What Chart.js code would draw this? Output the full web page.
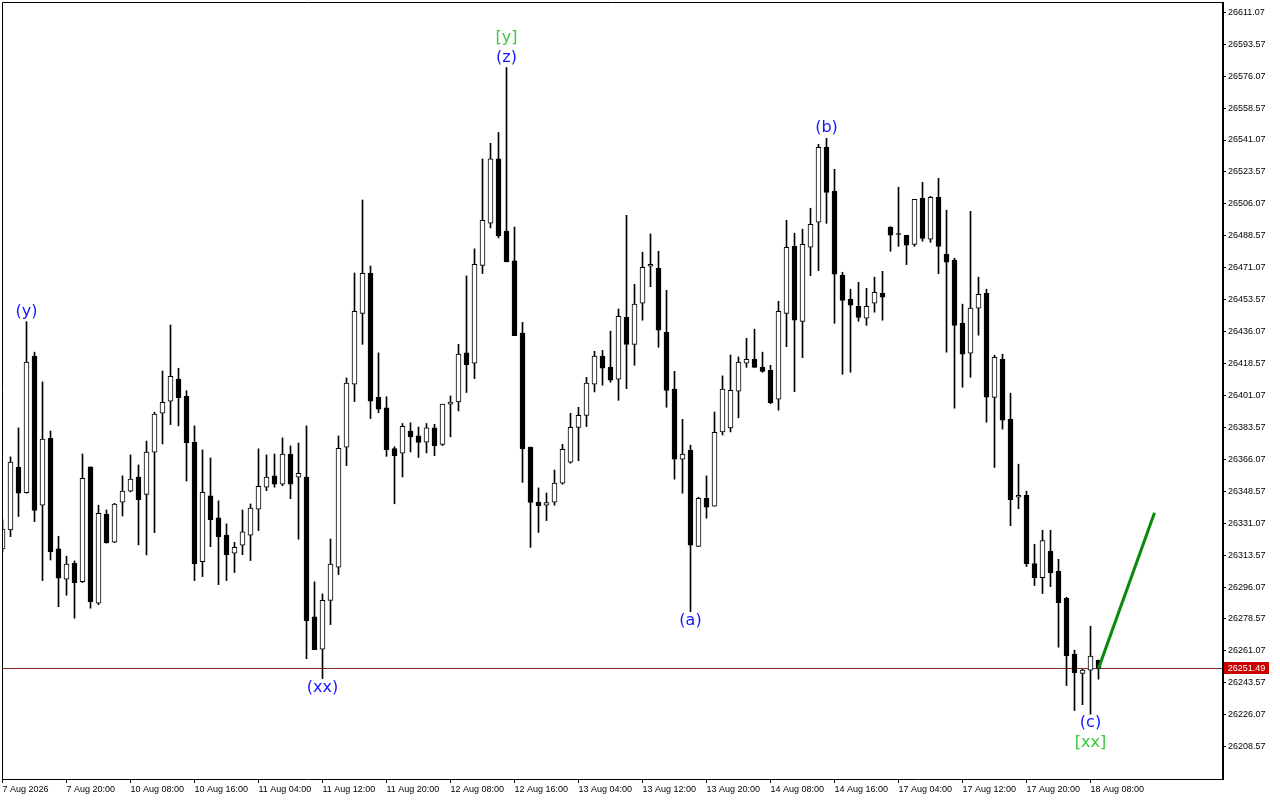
<!DOCTYPE html>
<html>
<head>
<meta charset="utf-8">
<script src="https://cdn.jsdelivr.net/npm/chart.js@4.4.1/dist/chart.umd.min.js"></script>
<style>
  html, body { margin: 0; padding: 0; background: #fff; }
  .chart-box { width: 1280px; height: 800px; position: relative; }
</style>
</head>
<body>
<div class="chart-box"><canvas id="canvas"></canvas></div>
<script>
// time axis labels, one every 8 candles
const timeLabels = ["7 Aug 2026", "7 Aug 20:00", "10 Aug 08:00", "10 Aug 16:00", "11 Aug 04:00",
    "11 Aug 12:00", "11 Aug 20:00", "12 Aug 08:00", "12 Aug 16:00", "13 Aug 04:00", "13 Aug 12:00",
    "13 Aug 20:00", "14 Aug 08:00", "14 Aug 16:00", "17 Aug 04:00", "17 Aug 12:00", "17 Aug 20:00",
    "18 Aug 08:00"];

const yTicks = [26611.07, 26593.57, 26576.07, 26558.57, 26541.07, 26523.57, 26506.07, 26488.57,
    26471.07, 26453.57, 26436.07, 26418.57, 26401.07, 26383.57, 26366.07, 26348.57, 26331.07,
    26313.57, 26296.07, 26278.57, 26261.07, 26243.57, 26226.07, 26208.57];

const opens = [26317.0, 26327.4, 26361.7, 26347.8, 26422.6, 26340.9, 26377.6, 26317.0, 26300.4, 26309.1,
    26299.0, 26361.9, 26287.2, 26336.0, 26320.6, 26342.6, 26348.6, 26356.3, 26346.9, 26370.0,
    26391.3, 26397.9, 26410.0, 26400.6, 26375.4, 26310.0, 26346.0, 26334.0, 26324.6, 26314.6,
    26319.0, 26324.5, 26338.7, 26350.8, 26357.0, 26352.4, 26368.9, 26356.3, 26356.4, 26279.7,
    26262.0, 26288.8, 26306.9, 26372.7, 26407.2, 26446.1, 26468.0, 26400.1, 26394.3, 26371.9,
    26369.5, 26381.6, 26378.9, 26375.5, 26383.3, 26374.2, 26396.3, 26397.5, 26424.4, 26418.8,
    26472.4, 26495.5, 26530.7, 26491.2, 26474.8, 26435.2, 26372.8, 26342.7, 26340.9, 26342.6,
    26353.0, 26364.5, 26383.6, 26390.2, 26407.2, 26422.6, 26416.5, 26410.0, 26443.9, 26429.1,
    26451.6, 26471.9, 26470.8, 26435.7, 26404.5, 26366.1, 26371.1, 26318.4, 26344.7, 26340.4,
    26381.1, 26383.3, 26403.4, 26418.7, 26420.9, 26416.5, 26414.9, 26399.0, 26446.1, 26482.8,
    26441.7, 26482.3, 26496.0, 26537.1, 26512.9, 26466.9, 26453.8, 26449.9, 26443.4, 26451.6,
    26457.1, 26493.3, 26489.5, 26488.9, 26483.9, 26509.1, 26486.7, 26509.7, 26478.5, 26475.2,
    26440.6, 26424.2, 26448.9, 26457.1, 26400.0, 26420.9, 26388.0, 26345.3, 26346.4, 26308.9,
    26301.2, 26315.7, 26304.7, 26289.9, 26259.3, 26248.8, 26250.5, 26256.0];

const highs = [26332.9, 26367.4, 26383.3, 26441.5, 26424.8, 26408.5, 26381.6, 26323.9, 26313.0, 26310.4,
    26369.0, 26361.9, 26340.9, 26338.3, 26342.0, 26357.0, 26368.5, 26363.0, 26376.1, 26391.9,
    26414.5, 26439.7, 26416.0, 26403.7, 26384.4, 26371.2, 26366.8, 26343.3, 26330.7, 26320.6,
    26338.3, 26341.6, 26371.8, 26368.5, 26369.0, 26377.8, 26373.4, 26375.0, 26384.4, 26298.9,
    26292.3, 26322.4, 26378.9, 26410.7, 26468.2, 26508.2, 26472.0, 26424.4, 26400.4, 26373.0,
    26385.7, 26386.1, 26383.8, 26385.7, 26385.3, 26396.3, 26400.8, 26429.1, 26466.6, 26481.4,
    26530.7, 26539.3, 26545.2, 26580.8, 26493.4, 26441.1, 26372.8, 26350.4, 26347.6, 26360.2,
    26374.3, 26391.3, 26394.6, 26411.0, 26425.3, 26425.8, 26436.3, 26448.5, 26499.8, 26462.0,
    26479.6, 26489.6, 26480.1, 26458.7, 26414.3, 26388.0, 26373.8, 26345.3, 26357.0, 26392.0,
    26411.8, 26423.3, 26422.2, 26432.4, 26437.4, 26424.8, 26417.6, 26452.7, 26497.1, 26490.0,
    26492.2, 26503.7, 26538.7, 26542.0, 26525.0, 26468.6, 26459.3, 26463.1, 26459.8, 26465.9,
    26469.1, 26493.6, 26515.2, 26488.9, 26508.6, 26517.9, 26510.2, 26520.1, 26502.6, 26476.3,
    26451.1, 26502.0, 26465.9, 26459.3, 26423.1, 26423.7, 26402.3, 26363.4, 26348.6, 26319.5,
    26327.2, 26327.2, 26311.3, 26290.5, 26261.5, 26251.0, 26274.6, 26256.0];

const lows = [26315.3, 26323.7, 26334.7, 26347.5, 26331.9, 26299.6, 26310.9, 26285.3, 26291.6, 26279.0,
    26298.5, 26284.5, 26286.4, 26320.1, 26320.4, 26335.0, 26348.2, 26319.2, 26313.7, 26325.9,
    26374.5, 26385.1, 26384.4, 26354.2, 26299.6, 26301.8, 26318.2, 26297.4, 26299.6, 26304.0,
    26313.8, 26310.6, 26327.0, 26348.9, 26350.8, 26351.6, 26344.5, 26322.3, 26256.8, 26261.8,
    26245.9, 26275.5, 26302.9, 26362.6, 26397.7, 26429.1, 26388.4, 26391.6, 26367.7, 26341.7,
    26356.4, 26370.1, 26367.1, 26369.6, 26368.1, 26373.6, 26378.4, 26392.6, 26402.7, 26410.3,
    26467.9, 26492.9, 26487.4, 26474.3, 26433.9, 26353.4, 26317.8, 26326.0, 26332.5, 26340.9,
    26352.4, 26363.9, 26365.3, 26384.0, 26403.0, 26406.7, 26408.3, 26398.4, 26404.8, 26417.6,
    26442.3, 26460.7, 26427.5, 26394.6, 26355.2, 26347.5, 26282.6, 26318.3, 26333.8, 26340.4,
    26379.4, 26381.1, 26388.8, 26416.5, 26416.5, 26413.8, 26396.6, 26393.0, 26427.8, 26403.2,
    26421.8, 26466.7, 26469.5, 26495.4, 26440.6, 26412.7, 26413.8, 26441.7, 26439.5, 26446.7,
    26442.3, 26480.1, 26482.8, 26472.8, 26482.8, 26485.6, 26485.0, 26467.8, 26424.8, 26394.1,
    26405.6, 26411.0, 26434.1, 26386.4, 26361.6, 26382.6, 26329.7, 26339.0, 26307.3, 26296.9,
    26292.5, 26296.3, 26263.1, 26242.1, 26228.4, 26231.6, 26226.4, 26245.6];

const closes = [26327.9, 26364.5, 26347.5, 26419.3, 26338.0, 26377.1, 26315.5, 26300.9, 26308.6, 26298.5,
    26355.7, 26288.1, 26336.5, 26320.4, 26341.5, 26348.6, 26355.2, 26344.0, 26370.0, 26390.8,
    26397.3, 26411.6, 26399.9, 26375.2, 26308.9, 26348.0, 26333.0, 26323.7, 26313.8, 26317.9,
    26326.3, 26339.3, 26351.3, 26356.3, 26352.4, 26368.9, 26352.4, 26358.4, 26277.7, 26261.8,
    26288.8, 26308.7, 26372.1, 26407.9, 26447.2, 26468.0, 26397.9, 26393.5, 26371.4, 26368.1,
    26384.1, 26378.4, 26375.3, 26383.3, 26373.6, 26396.3, 26397.5, 26423.7, 26418.0, 26473.0,
    26497.0, 26530.7, 26488.5, 26474.3, 26433.9, 26371.9, 26342.4, 26340.7, 26342.3, 26353.0,
    26371.6, 26383.6, 26390.2, 26407.8, 26422.6, 26416.0, 26409.4, 26444.5, 26429.1, 26451.1,
    26471.3, 26473.0, 26436.8, 26403.9, 26366.1, 26368.9, 26319.0, 26344.7, 26339.8, 26380.9,
    26404.5, 26403.9, 26419.3, 26420.9, 26416.5, 26414.3, 26397.1, 26447.2, 26482.3, 26442.3,
    26483.9, 26494.9, 26537.1, 26512.4, 26467.5, 26453.2, 26450.5, 26443.9, 26449.9, 26457.6,
    26454.9, 26488.9, 26489.3, 26483.4, 26508.6, 26487.2, 26509.7, 26482.8, 26474.1, 26439.5,
    26423.7, 26448.9, 26456.5, 26400.1, 26422.0, 26387.5, 26344.0, 26346.4, 26308.9, 26301.2,
    26321.5, 26304.0, 26287.5, 26258.5, 26249.2, 26250.5, 26258.2, 26251.49];

const lastPrice = 26251.49;

// projected move (green line)
const projX = [137, 144];
const projY = [26251.5, 26336.8];

// wave marks: text, candle index, side of the candle, stacking level
const waveTexts = ["(y)", "(z)", "[y]", "(xx)", "(a)", "(b)", "(c)", "[xx]"];
const waveIdx   = [3, 63, 63, 40, 86, 103, 136, 136];
const waveSide  = ["high", "high", "high", "low", "low", "high", "low", "low"];
const waveLevel = [0, 0, 1, 0, 0, 0, 0, 1];

const idx = opens.map((_, i) => i);
const bodies = idx.map(i => ({ x: i, y: [opens[i], closes[i]] }));
const wicks = idx.map(i => ({ x: i, y: [lows[i], highs[i]] }));
const bodyFill = idx.map(i => closes[i] >= opens[i] ? "#ffffff" : "#000000");

const tickFont = { family: "Liberation Sans", size: 9 };

let overlay = {
    id: "overlay",
    beforeDatasetsDraw(chart) {
        const { ctx, chartArea: a, scales: { y } } = chart;
        const py = Math.round(y.getPixelForValue(lastPrice)) + 0.5;
        ctx.save();
        ctx.strokeStyle = "#8a2424";
        ctx.lineWidth = 1;
        ctx.beginPath();
        ctx.moveTo(a.left, py);
        ctx.lineTo(a.right, py);
        ctx.stroke();
        ctx.restore();
    },
    afterDraw(chart) {
        const { ctx, chartArea: a, scales: { x, y } } = chart;
        ctx.save();
        // frame
        ctx.strokeStyle = "#000";
        ctx.lineWidth = 1;
        ctx.beginPath();
        ctx.moveTo(a.left + 0.5, a.bottom);
        ctx.lineTo(a.left + 0.5, a.top + 0.5);
        ctx.lineTo(a.right, a.top + 0.5);
        ctx.moveTo(a.left, a.bottom + 0.5);
        ctx.lineTo(a.right + 2, a.bottom + 0.5);
        ctx.stroke();
        ctx.lineWidth = 2;
        ctx.beginPath();
        ctx.moveTo(a.right + 1, a.top);
        ctx.lineTo(a.right + 1, a.bottom + 1);
        ctx.stroke();

        // last price tag
        const py = Math.round(y.getPixelForValue(lastPrice));
        ctx.fillStyle = "#c80000";
        ctx.fillRect(a.right + 2, py - 6, 45, 12);
        ctx.fillStyle = "#fff";
        ctx.font = "9px 'Liberation Sans'";
        ctx.textAlign = "center";
        ctx.textBaseline = "middle";
        ctx.fillText(lastPrice.toFixed(2), a.right + 24.5, py + 0.5);

        // wave marks
        ctx.font = "16px 'DejaVu Sans'";
        waveTexts.forEach((t, i) => {
            const k = waveIdx[i];
            const px = x.getPixelForValue(k);
            let ty;
            if (waveSide[i] === "high") {
                ty = y.getPixelForValue(highs[k]) - 10 - 20 * waveLevel[i];
            } else {
                ty = y.getPixelForValue(lows[k]) + 9 + 20 * waveLevel[i];
            }
            ctx.fillStyle = t.startsWith("[") ? "#3cc83c" : "#1414ff";
            ctx.fillText(t, px, ty);
        });
        ctx.restore();
    }
};

let chart = new Chart(document.getElementById("canvas").getContext("2d"), {
    type: "bar",
    data: {
        datasets: [
            {
                type: "line",
                data: projX.map((v, i) => ({ x: v, y: projY[i] })),
                borderColor: "#0a8a0a",
                borderWidth: 3,
                pointRadius: 0,
                order: 0
            },
            {
                data: bodies,
                backgroundColor: bodyFill,
                borderColor: "#000",
                borderWidth: 1,
                borderSkipped: false,
                barThickness: 5,
                minBarLength: 1,
                grouped: false,
                order: 1
            },
            {
                data: wicks,
                backgroundColor: "#000",
                borderWidth: 0,
                barThickness: 1,
                grouped: false,
                order: 2
            }
        ]
    },
    options: {
        responsive: true,
        maintainAspectRatio: false,
        animation: false,
        devicePixelRatio: 1,
        events: [],
        layout: { padding: { left: 2, top: 2, right: 0, bottom: 0 } },
        scales: {
            x: {
                type: "linear",
                position: "bottom",
                offset: false,
                min: -0.0625,
                max: 152.4375,
                afterBuildTicks: s => { s.ticks = timeLabels.map((_, j) => ({ value: j * 8 })); },
                afterFit: s => { s.height = 21; s.paddingLeft = 0; s.paddingRight = 0; },
                ticks: {
                    autoSkip: false,
                    maxRotation: 0,
                    align: "start",
                    padding: 1,
                    color: "#000",
                    font: tickFont,
                    callback: (v, i) => timeLabels[i]
                },
                grid: { offset: false, drawOnChartArea: false, drawTicks: true, tickLength: 4, color: "#000" },
                border: { display: false }
            },
            y: {
                type: "linear",
                position: "right",
                min: 26190.87,
                max: 26616.71,
                afterBuildTicks: s => { s.ticks = yTicks.map(v => ({ value: v })); },
                afterFit: s => { s.width = 58; s.paddingTop = 0; s.paddingBottom = 0; },
                ticks: {
                    autoSkip: false,
                    padding: 2,
                    color: "#000",
                    font: tickFont,
                    callback: v => v.toFixed(2)
                },
                grid: { offset: false, drawOnChartArea: false, drawTicks: true, tickLength: 4, color: "#000" },
                border: { display: false }
            }
        },
        plugins: {
            legend: { display: false },
            tooltip: { enabled: false }
        }
    },
    plugins: [overlay]
});
</script>
</body>
</html>
